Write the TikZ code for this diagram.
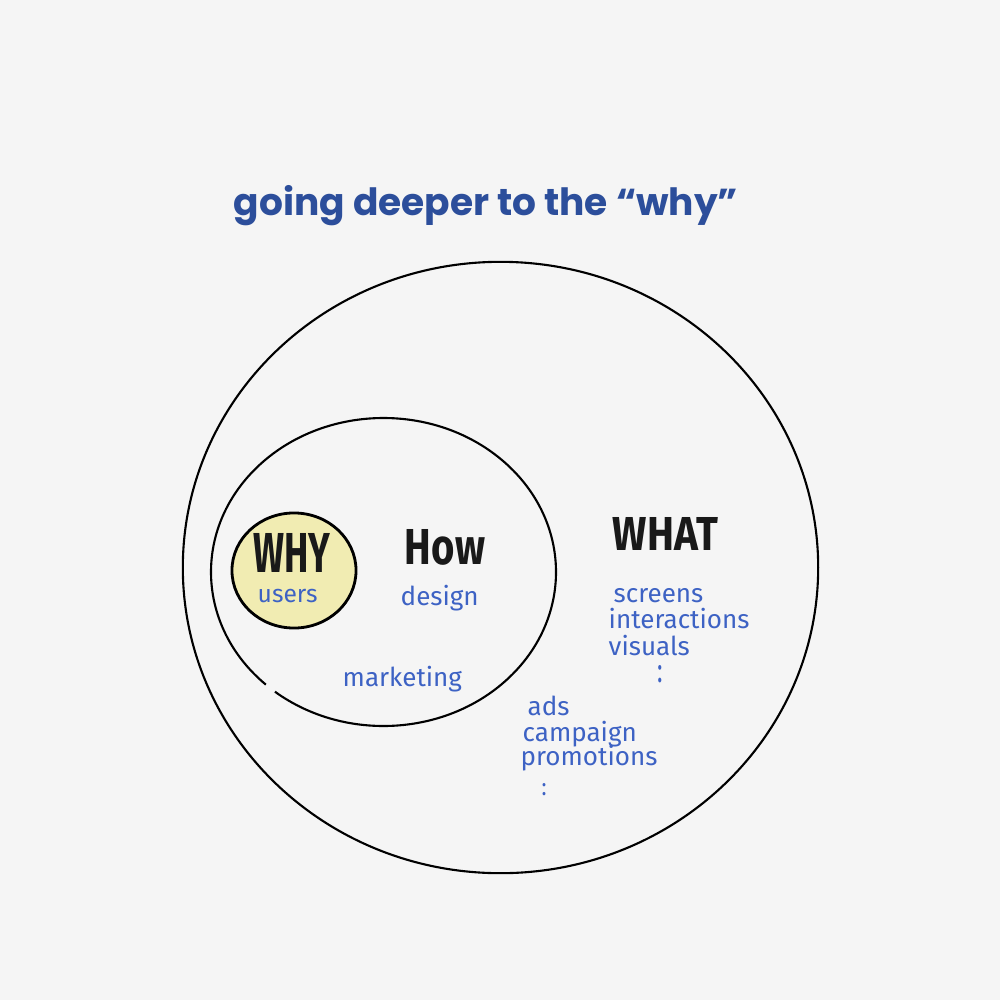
\documentclass[tikz,border=0pt]{standalone}
\usepackage{fontspec}
\setmainfont{Fira Sans}
\newfontfamily\titlefont{Poppins}
\usetikzlibrary{shapes.geometric}
\definecolor{bg}{HTML}{F5F5F5}
\definecolor{titleblue}{HTML}{2C4E9B}
\definecolor{hand}{HTML}{3D62C4}
\definecolor{whyfill}{HTML}{F1ECB2}
\tikzset{
  ring/.style={draw=black, line width=0.6pt, ellipse, inner sep=0pt},
  big/.style={inner sep=0pt, text=black!90},
  lbl/.style={font=\fontsize{7.4}{8}\selectfont, text=hand, inner sep=0pt, anchor=base west},
  dots/.style={text=hand, inner sep=0pt, font=\fontsize{7}{7}\selectfont}
}
\begin{document}
\begin{tikzpicture}[x=0.01cm,y=-0.01cm]
\fill[bg] (0,0) rectangle (1000,1000);
\useasboundingbox (0,0) rectangle (1000,1000);

% title
\node[inner sep=0pt, anchor=base, text=titleblue] (title) at (486,215)
  {\resizebox{5.04cm}{!}{\titlefont\bfseries going deeper to the “why”}};

% outer circle (WHAT)
\node[ring, minimum width=6.35cm, minimum height=6.11cm] (outer) at (500.5,567.5) {};

% inner circle (HOW) with a small gap at lower left
\draw[line width=0.6pt] ([shift={(133:172.5 and 154)}]383.5,572) coordinate (gapA)
  arc[start angle=133, end angle=489, x radius=172.5, y radius=154] coordinate (gapB);

% WHY circle
\node[ring, line width=0.8pt, fill=whyfill, minimum width=1.24cm, minimum height=1.15cm] (why) at (294,570.5) {};

% big words
\node[big] (whyt) at (292,552.5) {\resizebox{7.7mm}{3.9mm}{\bfseries WHY}};
\node[big] (howt) at (445,547.5) {\resizebox{8.0mm}{3.5mm}{\bfseries How}};
\node[big] (whatt) at (665.5,533.5) {\resizebox{10.5mm}{3.3mm}{\bfseries WHAT}};

% handwritten labels
\node[lbl, font=\fontsize{7}{8}\selectfont] (users) at (257,602) {users};
\node[lbl] (design) at (400,605) {design};
\node[lbl] (screens) at (613,602) {screens};
\node[lbl] (inter) at (608,628) {interactions};
\node[lbl] (visuals) at (608,655) {visuals};
\node[dots] (dotsA) at (660,674) {\resizebox{0.55mm}{1.7mm}{:}};
\node[lbl] (marketing) at (342,686) {marketing};
\node[lbl] (ads) at (527,715) {ads};
\node[lbl] (campaign) at (522,741) {campaign};
\node[lbl] (promo) at (520,765) {promotions};
\node[dots] (dotsB) at (544,790) {\resizebox{0.5mm}{1.2mm}{:}};
\end{tikzpicture}
\end{document}
